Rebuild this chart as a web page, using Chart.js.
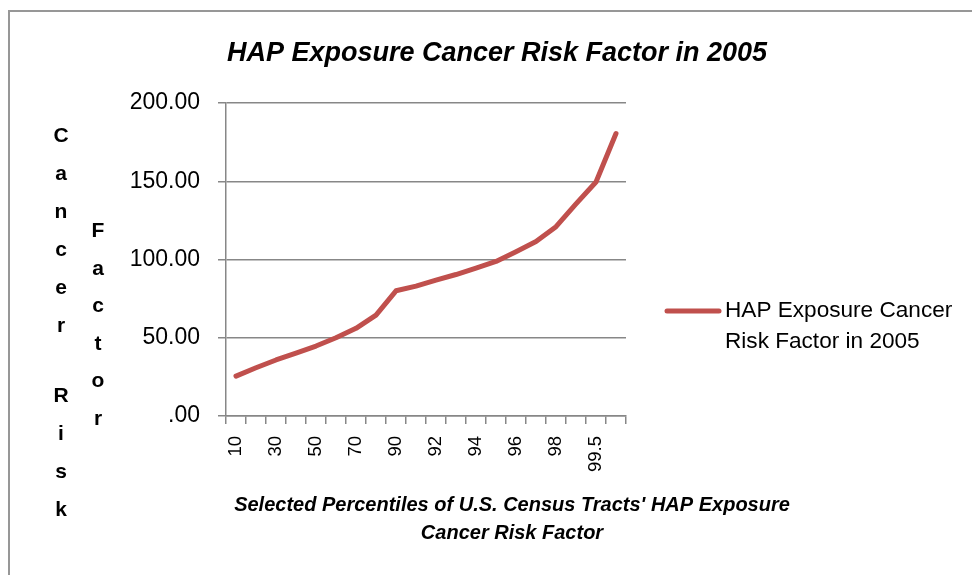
<!DOCTYPE html>
<html>
<head>
<meta charset="utf-8">
<script src="https://cdn.jsdelivr.net/npm/chart.js@4/dist/chart.umd.min.js"></script>
<style>
html,body{margin:0;padding:0;background:#fff;}
#wrap{position:relative;width:972px;height:575px;}
</style>
</head>
<body>
<div id="wrap"><canvas id="c" width="972" height="575"></canvas></div>
<script>
const categories = ["10","20","30","40","50","60","70","80","90","91","92","93","94","95","96","97","98","99","99.5","99.9"];
const riskValues = [25.5, 30.8, 35.8, 40.2, 44.7, 50.0, 56.0, 64.5, 80.0, 83.0, 86.8, 90.4, 94.5, 98.8, 105.0, 111.5, 121.0, 135.5, 149.5, 180.5];
const seriesName = "HAP Exposure Cancer Risk Factor in 2005";
const chartTitle = "HAP Exposure Cancer Risk Factor in 2005";
const xTitleLines = ["Selected Percentiles of U.S. Census Tracts' HAP Exposure", "Cancer Risk Factor"];
const yTitleCol1 = "Cancer Risk";
const yTitleCol2 = "Factor";
const yTicks = [0, 50, 100, 150, 200];

const FONT = "'Liberation Sans', Arial, sans-serif";
const GRID = "#878787";

const decorPlugin = {
  id: 'decor',
  afterDraw(chart) {
    const ctx = chart.ctx;
    ctx.save();
    // outer border (top and left visible)
    ctx.strokeStyle = "#979797";
    ctx.lineWidth = 2;
    ctx.beginPath();
    ctx.moveTo(9, 575);
    ctx.lineTo(9, 11);
    ctx.lineTo(972, 11);
    ctx.stroke();

    // title
    ctx.fillStyle = "#000";
    ctx.font = "italic bold 27px " + FONT;
    ctx.textAlign = "center";
    ctx.textBaseline = "alphabetic";
    ctx.fillText(chartTitle, 497, 61);

    // stacked y-axis title
    ctx.font = "bold 21px " + FONT;
    ctx.textAlign = "center";
    let yb = 142;
    for (const ch of yTitleCol1) {
      if (ch === " ") { yb += 32; continue; }
      ctx.fillText(ch, 61, yb);
      yb += 38;
    }
    yb = 237;
    for (const ch of yTitleCol2) {
      ctx.fillText(ch, 98, yb);
      yb += 37.6;
    }

    // x-axis title
    ctx.font = "italic bold 20px " + FONT;
    ctx.textBaseline = "middle";
    ctx.fillText(xTitleLines[0], 512, 505);
    ctx.fillText(xTitleLines[1], 512, 533);

    // legend
    const ds = chart.data.datasets[0];
    ctx.strokeStyle = ds.borderColor;
    ctx.lineWidth = 5;
    ctx.lineCap = "round";
    ctx.beginPath();
    ctx.moveTo(667, 311);
    ctx.lineTo(719, 311);
    ctx.stroke();
    ctx.font = "22.6px " + FONT;
    ctx.textAlign = "left";
    ctx.textBaseline = "middle";
    const words = ds.label.split(" ");
    ctx.fillText(words.slice(0, 3).join(" "), 725, 311);
    ctx.fillText(words.slice(3).join(" "), 725, 342);
    ctx.restore();
  }
};

new Chart(document.getElementById('c'), {
  type: 'line',
  data: {
    labels: categories,
    datasets: [{
      label: seriesName,
      data: riskValues,
      borderColor: "#C0504D",
      backgroundColor: "#C0504D",
      borderWidth: 5,
      pointRadius: 0,
      tension: 0,
      borderCapStyle: 'round',
      borderJoinStyle: 'round',
      fill: false
    }]
  },
  options: {
    responsive: false,
    animation: false,
    devicePixelRatio: 1,
    layout: { padding: { top: 103, left: 100, right: 346, bottom: 0 } },
    plugins: { legend: { display: false }, title: { display: false }, tooltip: { enabled: false } },
    scales: {
      x: {
        type: 'category',
        offset: true,
        afterFit(s) { s.height = 159; },
        grid: { display: true, drawOnChartArea: false, offset: true, tickLength: 8, color: GRID, lineWidth: 1.5 },
        border: { display: true, color: GRID, width: 1.5 },
        ticks: {
          autoSkip: false, minRotation: 90, maxRotation: 90, padding: 12,
          color: "#000", font: { family: FONT, size: 18.5 },
          callback(v, i) { return i % 2 === 0 ? categories[i] : ''; }
        }
      },
      y: {
        min: 0, max: 200,
        afterFit(s) { s.width = 126; },
        afterBuildTicks(s) { s.ticks = yTicks.map(v => ({ value: v })); },
        grid: { color: GRID, lineWidth: 1.5, tickLength: 8 },
        border: { display: true, color: GRID, width: 1.5 },
        ticks: {
          padding: 18, color: "#000", font: { family: FONT, size: 23 },
          callback(v) { return v === 0 ? ".00" : Number(v).toFixed(2); }
        }
      }
    }
  },
  plugins: [decorPlugin]
});
</script>
</body>
</html>
